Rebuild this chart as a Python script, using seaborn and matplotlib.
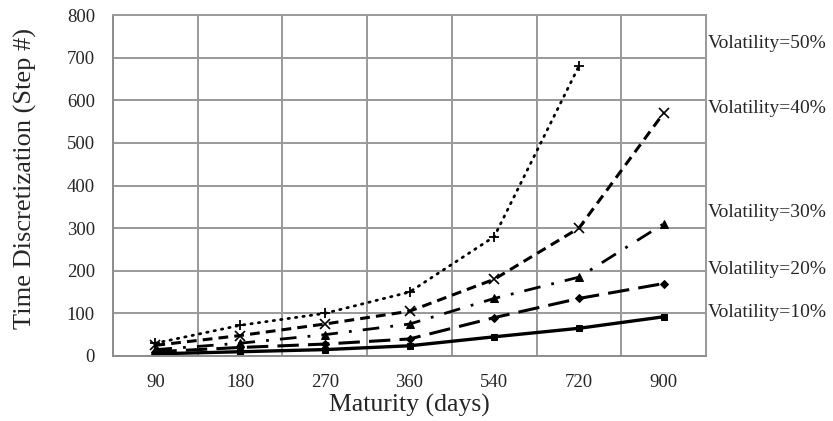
import matplotlib
matplotlib.use("Agg")
import matplotlib.pyplot as plt
import seaborn as sns
import numpy as np
import pandas as pd

maturities = ["90", "180", "270", "360", "540", "720", "900"]
vol10 = [5, 10, 15, 24, 45, 65, 92]
vol20 = [10, 20, 28, 40, 90, 135, 170]
vol30 = [15, 30, 50, 75, 135, 185, 310]
vol40 = [25, 48, 75, 105, 180, 300, 570]
vol50 = [30, 72, 100, 150, 280, 680]
labels = ["Volatility=10%", "Volatility=20%", "Volatility=30%", "Volatility=40%", "Volatility=50%"]
label_y = [101, 202, 336, 580, 732]
yticks = [0, 100, 200, 300, 400, 500, 600, 700, 800]

sns.set_style("white")
plt.rcParams['font.family'] = ['Liberation Serif', 'DejaVu Serif']

fig = plt.figure(figsize=(8.33, 4.21), dpi=100)
ax = fig.add_axes([113/833, 1 - 356/421, (706 - 113)/833, (356 - 15)/421])

series = [vol10, vol20, vol30, vol40, vol50]
styles = [
    dict(linestyle='-', marker='s', markersize=4.5, linewidth=2.4),
    dict(linestyle=(0, (7, 3)), marker='D', markersize=4, linewidth=2.2),
    dict(linestyle=(0, (6, 4, 1, 4)), marker='^', markersize=5.5, linewidth=2.0),
    dict(linestyle=(0, (3.2, 2)), marker='x', markersize=7, linewidth=2.2, markeredgewidth=1.2),
    dict(linestyle=(0, (0.5, 2.2)), marker='+', markersize=7, linewidth=2.0, markeredgewidth=1.3, dash_capstyle='round'),
]
for vals, st in zip(series, styles):
    pos = np.arange(len(vals))
    df = pd.DataFrame({"x": pos, "y": vals})
    sns.lineplot(data=df, x="x", y="y", ax=ax, color="black", markeredgecolor="black", **st)

n = len(maturities)
ax.set_xlim(-0.5, n - 0.5)
ax.set_ylim(0, 800)
ax.set_yticks(yticks)
ax.set_yticklabels([str(v) for v in yticks], fontsize=13.5)
ax.set_xticks(np.arange(-0.5, n, 1.0))
ax.set_xticklabels([])
ax.set_xticks(np.arange(n), minor=True)
ax.set_xticklabels(maturities, minor=True, fontsize=13.5)
ax.tick_params(axis='x', which='major', direction='out', length=7, width=1.3, color='#8c8c8c')
ax.tick_params(axis='x', which='minor', length=0, pad=13)
ax.tick_params(axis='y', direction='out', length=6, width=1.3, color='#8c8c8c', pad=7)
ax.grid(True, which='major', color='#999999', linewidth=1.4)
ax.set_axisbelow(True)
for s in ax.spines.values():
    s.set_color('#999999')
    s.set_linewidth(1.4)
ax.spines['bottom'].set_color('#8c8c8c')
ax.spines['left'].set_color('#8c8c8c')

ax.set_xlabel("Maturity (days)", fontsize=18.5)
ax.xaxis.label.set_va('center')
ax.xaxis.set_label_coords(0.5, (356 - 405) / 341)
ax.set_ylabel("Time Discretization (Step #)", fontsize=19)
ax.yaxis.label.set_va('center')
ax.yaxis.set_label_coords((25 - 113) / 593, 0.52)

for lab, yv in zip(labels, label_y):
    ax.text(n - 0.48, yv, lab, fontsize=14, va='center', ha='left', clip_on=False)

fig.savefig("out.png", dpi=100)
